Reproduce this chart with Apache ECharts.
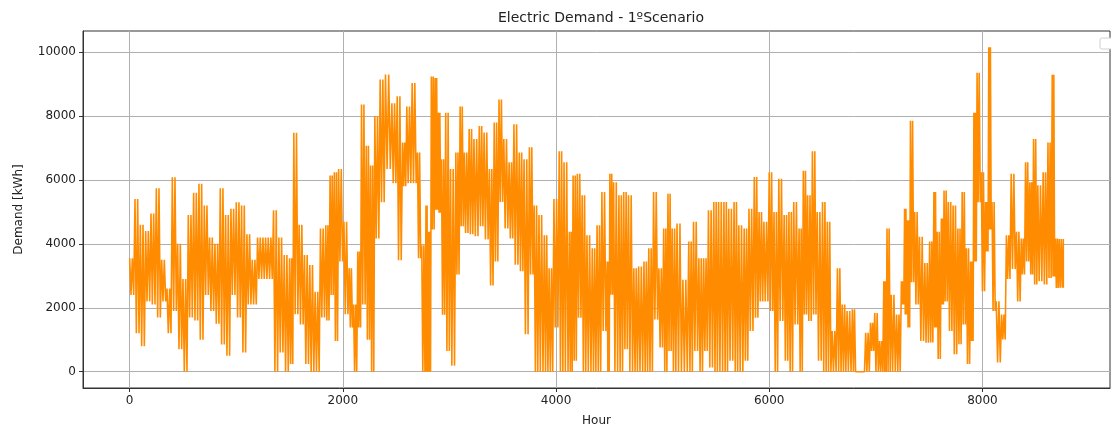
<!DOCTYPE html>
<html>
<head>
<meta charset="utf-8">
<script src="https://cdn.jsdelivr.net/npm/echarts@6/dist/echarts.min.js"></script>
<style>
  html, body { margin: 0; padding: 0; background: #fff; }
  #main { width: 1111px; height: 432px; }
</style>
</head>
<body>
<div id="main"></div>
<script>
// hour at which each read-off window starts
var binHour = [
  0, 50, 100, 150, 200, 250, 300, 350, 400, 450, 500, 550, 600, 650, 700, 750, 800, 850, 900, 950,
  1000, 1050, 1100, 1150, 1200, 1250, 1300, 1350, 1400, 1450, 1500, 1540, 1590, 1640, 1690, 1740, 1790, 1840, 1880, 1920,
  1960, 2010, 2060, 2100, 2140, 2175, 2220, 2260, 2300, 2350, 2400, 2460, 2510, 2560, 2600, 2650, 2700, 2740, 2780, 2800,
  2830, 2865, 2895, 2925, 2965, 3010, 3060, 3100, 3140, 3185, 3230, 3280, 3325, 3375, 3420, 3465, 3510, 3560, 3605, 3655,
  3700, 3750, 3795, 3840, 3890, 3935, 3980, 4030, 4075, 4125, 4160, 4200, 4245, 4290, 4340, 4385, 4430, 4480, 4505, 4540,
  4590, 4635, 4680, 4730, 4775, 4825, 4870, 4915, 4965, 5010, 5050, 5090, 5135, 5190, 5245, 5290, 5340, 5385, 5430, 5480,
  5525, 5575, 5620, 5670, 5715, 5765, 5810, 5860, 5905, 5950, 6000, 6045, 6090, 6140, 6185, 6230, 6280, 6320, 6360, 6405,
  6450, 6500, 6545, 6590, 6640, 6685, 6730, 6780, 6820, 6860, 6905, 6950, 6990, 7035, 7075, 7105, 7145, 7195, 7240, 7270,
  7295, 7325, 7365, 7410, 7460, 7505, 7545, 7575, 7615, 7640, 7680, 7725, 7770, 7810, 7850, 7890, 7920, 7950, 7990, 8030,
  8060, 8090, 8130, 8180, 8225, 8270, 8320, 8365, 8405, 8445, 8480, 8520, 8570, 8615, 8655, 8685, 8720, 8759
];
// highest demand seen in each window (kWh)
var peak = [
  3550, 5400, 4600, 4400, 4950, 5740, 3500, 2600, 6080, 4000, 2900, 4900, 5600, 5880, 5200, 4200, 4000, 5740, 4900, 5100,
  5300, 5200, 4300, 3500, 4200, 4200, 4200, 5050, 4200, 3650, 3550, 7480, 4600, 3650, 3340, 2500, 4480, 4580, 6140, 6240,
  6340, 4690, 3240, 2100, 3760, 8360, 7070, 6450, 8000, 9140, 9300, 8400, 8620, 7170, 8300, 9030, 6860, 3960, 5200, 4380,
  9240, 9190, 8100, 6650, 8100, 6340, 6860, 8300, 6860, 7590, 7280, 7690, 7480, 6340, 7800, 8520, 7280, 6550, 7740, 6860,
  6650, 7020, 5200, 4900, 4270, 3240, 5400, 6900, 6550, 4380, 6140, 6190, 5520, 4270, 3860, 4580, 5620, 3450, 6190, 5930,
  5520, 5620, 5520, 3240, 3290, 3450, 3860, 5620, 3240, 4480, 5570, 4480, 4640, 2880, 4070, 4690, 3550, 3550, 5050, 5310,
  5310, 5310, 5100, 5310, 4580, 4480, 5100, 6090, 5000, 4690, 6240, 5000, 6040, 4900, 5000, 5310, 4480, 6290, 5520, 6900,
  5000, 5310, 4690, 1270, 3240, 2100, 1900, 1950, 0, 0, 1220, 1530, 1840, 960, 2830, 4480, 2410, 1790, 2830, 5100,
  4740, 7850, 5000, 4220, 3400, 4070, 5620, 4380, 4790, 5670, 5310, 5200, 4480, 5620, 3860, 3450, 8100, 9350, 6240, 5310,
  10150, 5310, 2200, 1790, 4270, 6190, 4380, 4170, 6550, 5930, 7280, 5830, 6240, 7170, 9290, 4170, 4150, 4150
];
// lowest demand seen in each window (kWh)
var trough = [
  2400, 1200, 800, 2200, 2100, 1700, 2200, 1200, 1900, 700, 0, 1700, 1600, 1000, 2400, 1900, 1500, 850, 500, 2400,
  1700, 600, 2100, 2100, 2900, 2900, 2900, 0, 600, 0, 240, 1800, 1480, 240, 0, 0, 1700, 1600, 2400, 960,
  3450, 1800, 1380, 0, 1380, 2100, 1000, 0, 4170, 5300, 6340, 5900, 3490, 5800, 5900, 5900, 3550, 0, 0, 0,
  4450, 5070, 4970, 1780, 650, 190, 3040, 4550, 4340, 4300, 4240, 4550, 4140, 2700, 3450, 5310, 4480, 4170, 3350, 3140,
  1170, 3040, 0, 0, 0, 0, 1380, 0, 0, 0, 340, 1690, 0, 0, 0, 0, 1270, 0, 2410, 0,
  0, 700, 0, 0, 0, 0, 0, 1630, 760, 0, 650, 0, 0, 0, 0, 650, 0, 650, 130, 0,
  0, 0, 340, 0, 0, 340, 1270, 1690, 2200, 2200, 1900, 0, 1590, 340, 0, 1480, 0, 1790, 1590, 1790,
  340, 0, 0, 0, 0, 0, 0, 0, 0, 0, 0, 650, 0, 0, 0, 0, 0, 0, 2100, 1790,
  1380, 2800, 2100, 960, 910, 910, 1380, 400, 2100, 2200, 1270, 550, 860, 1480, 240, 960, 3450, 5300, 2520, 3760,
  4450, 1900, 290, 1010, 2900, 3210, 2200, 3040, 3450, 3040, 2730, 2830, 2730, 2930, 2980, 2620, 2630, 2630
];
var xTicks = [0, 2000, 4000, 6000, 8000];
var yTicks = [0, 2000, 4000, 6000, 8000, 10000];

// each window swings between its peak and trough (roughly one swing per day)
var demand = [];
for (var i = 0; i < binHour.length; i++) {
  var next = i + 1 < binHour.length ? binHour[i + 1] : binHour[i];
  var step = (next - binHour[i]) / 4;
  demand.push([binHour[i], peak[i]]);
  demand.push([binHour[i] + step, trough[i]]);
  demand.push([binHour[i] + step * 2, peak[i]]);
  demand.push([binHour[i] + step * 3, trough[i]]);
}

var textColor = '#222';
var font = 'DejaVu Sans';
var plain = function (v) { return String(v); };

var chart = echarts.init(document.getElementById('main'), null, { renderer: 'canvas' });
chart.setOption({
  animation: false,
  backgroundColor: '#fff',
  title: {
    text: 'Electric Demand - 1ºScenario',
    left: 596, top: 6, textAlign: 'center',
    textStyle: { fontFamily: font, fontSize: 14, fontWeight: 'normal', color: textColor }
  },
  grid: {
    left: 83, right: 1, top: 31, bottom: 41,
    show: true, borderColor: '#333', borderWidth: 1
  },
  xAxis: {
    type: 'value', min: -438, max: 9197,
    name: 'Hour', nameLocation: 'middle', nameGap: 27,
    nameTextStyle: { fontFamily: font, fontSize: 12, color: textColor },
    axisLine: { show: true, onZero: false, lineStyle: { color: '#333' } },
    axisTick: { show: true, length: 4, customValues: xTicks, lineStyle: { color: '#333' } },
    axisLabel: { customValues: xTicks, formatter: plain, fontFamily: font, fontSize: 12, color: textColor, margin: 7 },
    splitLine: { show: true, lineStyle: { color: '#b0b0b0', width: 1 } }
  },
  yAxis: {
    type: 'value', min: -510, max: 10660,
    name: 'Demand [kWh]', nameLocation: 'middle', nameGap: 58, nameRotate: 90,
    nameTextStyle: { fontFamily: font, fontSize: 12, color: textColor },
    axisLine: { show: true, onZero: false, lineStyle: { color: '#333' } },
    axisTick: { show: true, length: 4, customValues: yTicks, lineStyle: { color: '#333' } },
    axisLabel: { customValues: yTicks, formatter: plain, fontFamily: font, fontSize: 12, color: textColor, margin: 7 },
    splitLine: { show: true, lineStyle: { color: '#b0b0b0', width: 1 } }
  },
  series: [{
    type: 'line',
    data: demand,
    showSymbol: false,
    sampling: 'none',
    lineStyle: { color: '#ff8c00', width: 1.6 },
    itemStyle: { color: '#ff8c00' }
  }],
  graphic: [{
    type: 'rect',
    shape: { x: 1100, y: 38, width: 16, height: 11, r: 2 },
    style: { fill: '#fff', stroke: '#d0d0d0', lineWidth: 1 }
  }]
});
</script>
</body>
</html>
